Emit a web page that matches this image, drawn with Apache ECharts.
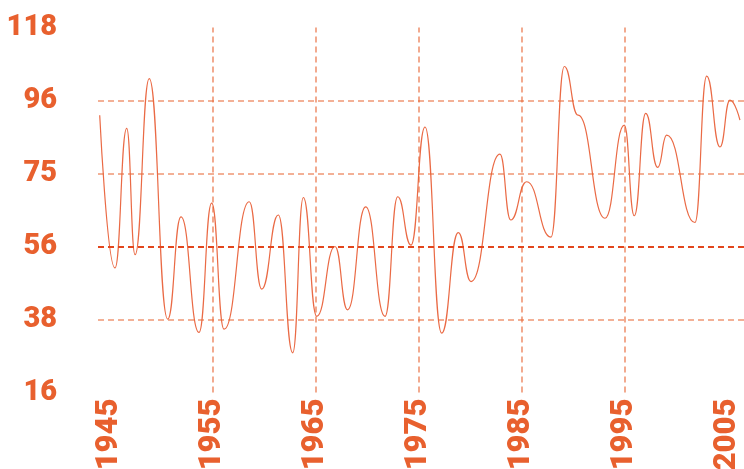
<!DOCTYPE html>
<html>
<head>
<meta charset="utf-8">
<script src="https://cdn.jsdelivr.net/npm/echarts@6/dist/echarts.min.js"></script>
<style>
html,body{margin:0;padding:0;background:#fff;overflow:hidden;}
#chart{width:744px;height:469px;}
</style>
</head>
<body>
<div id="chart"></div>
<script>
// Data (year, value)
const years = [1944.05, 1945.53, 1946.67, 1947.48, 1948.86, 1950.65, 1951.94, 1953.69, 1954.92, 1956.12,
  1958.57, 1959.78, 1961.39, 1962.79, 1963.82, 1965.12, 1966.89, 1968.11, 1969.87, 1971.75,
  1972.98, 1974.27, 1975.63, 1977.25, 1978.86, 1980.10, 1982.91,
  1983.95, 1985.50, 1987.86, 1989.16, 1990.49, 1993.11, 1994.98, 1995.95,
  1997.06, 1998.22, 1999.10, 2001.84, 2002.98, 2004.27, 2005.24, 2006.21];
const values = [93.5, 50.8, 89.8, 54.5, 103.7, 36.5, 65.1, 32.8, 68.9, 33.7,
  69.3, 44.9, 65.6, 27.1, 70.5, 37.3, 56.8, 39.1, 67.9, 37.3,
  70.7, 57.2, 90.2, 32.6, 60.7, 47.0, 82.6,
  64.2, 74.9, 59.4, 107.1, 93.5, 64.7, 90.7, 65.4,
  94.0, 78.9, 87.9, 63.5, 104.4, 84.6, 97.7, 92.1];
const xTickLabels = [1945, 1955, 1965, 1975, 1985, 1995, 2005];
const xGridYears = [1955, 1965, 1975, 1985, 1995];
const yTickLabels = ['16', '38', '56', '75', '96', '118'];

const xMin = 1943.8835, xMax = 2006.602;
const yMin = 16, yMax = 118;
const yTickValues = yTickLabels.map((_, i) => yMin + i * (yMax - yMin) / (yTickLabels.length - 1));

const orange = '#E8602E';
const gridColor = '#E86838';
const fontFam = "Roboto, 'DejaVu Sans', sans-serif";

const thinGrid = { color: gridColor, width: 1.6, type: [6, 4], opacity: 0.7 };
const markData = [];
xGridYears.forEach(y => markData.push({ xAxis: y, lineStyle: thinGrid }));
yTickValues.slice(1, -1).forEach((v, i) => {
  const bold = yTickLabels[i + 1] === '56';
  markData.push({ yAxis: v, lineStyle: bold ? { color: '#E2461C', width: 2, type: [6, 4], opacity: 1 } : thinGrid });
});

const chart = echarts.init(document.getElementById('chart'), null, { renderer: 'canvas', width: 744, height: 469 });
chart.setOption({
  animation: false,
  backgroundColor: '#ffffff',
  grid: { left: 98, width: 646, top: 27.5, height: 365, containLabel: false, outerBoundsMode: 'none' },
  xAxis: {
    type: 'value',
    min: xMin,
    max: xMax,
    axisLine: { show: false },
    axisTick: { show: false },
    splitLine: { show: false },
    axisLabel: {
      customValues: xTickLabels,
      rotate: 90,
      margin: 6,
      color: orange,
      fontFamily: fontFam,
      fontWeight: 900,
      fontSize: 31,
      formatter: v => String(v)
    }
  },
  yAxis: {
    type: 'value',
    min: yMin,
    max: yMax,
    axisLine: { show: false },
    axisTick: { show: false },
    splitLine: { show: false },
    axisLabel: {
      customValues: yTickValues,
      margin: 41,
      color: orange,
      fontFamily: fontFam,
      fontWeight: 900,
      fontSize: 29,
      formatter: v => {
        let best = 0;
        yTickValues.forEach((t, i) => { if (Math.abs(t - v) < Math.abs(yTickValues[best] - v)) best = i; });
        return yTickLabels[best];
      }
    }
  },
  series: [{
    type: 'line',
    data: years.map((y, i) => [y, values[i]]),
    smooth: 0.5,
    smoothMonotone: 'x',
    showSymbol: false,
    lineStyle: { color: '#EA6A45', width: 1.2 },
    markLine: {
      silent: true,
      symbol: 'none',
      label: { show: false },
      emphasis: { disabled: true },
      data: markData
    }
  }]
});
</script>
</body>
</html>
